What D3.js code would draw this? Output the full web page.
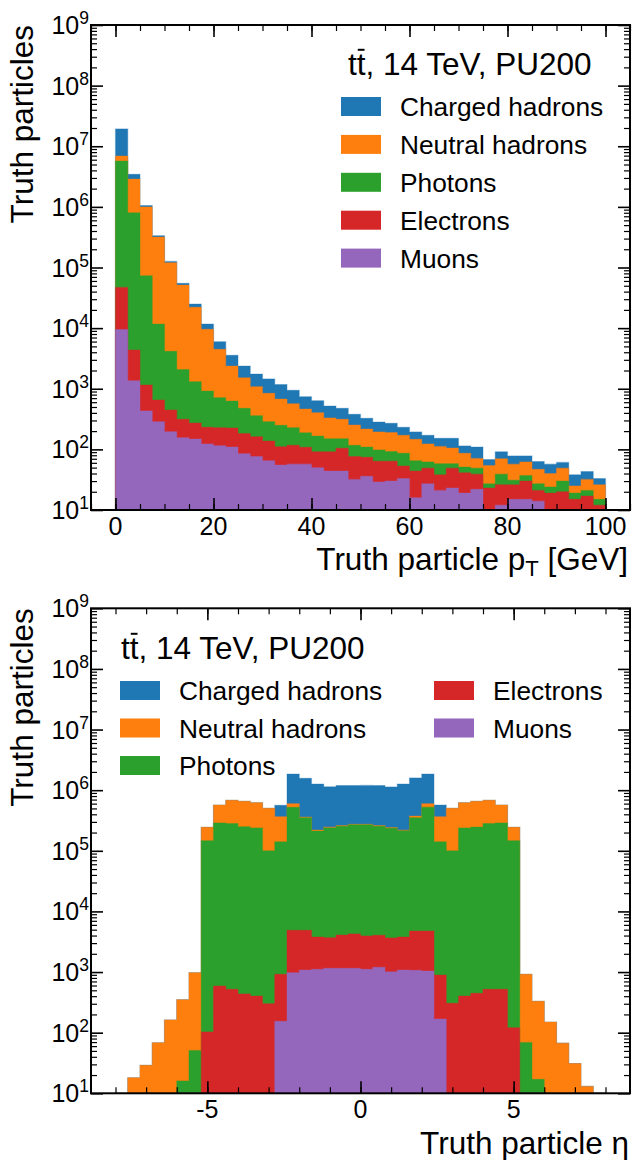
<!DOCTYPE html>
<html><head><meta charset="utf-8">
<script src="https://cdn.jsdelivr.net/npm/d3@7"></script>
<style>
body{margin:0;background:#fff}
text{font-family:"Liberation Sans",Arial,Helvetica,sans-serif;fill:#000}
</style>
</head><body>
<svg id="c" width="633" height="1160"></svg>
<script>
// ---------- DATA ----------
// Series names and colours
const seriesNames = ["Charged hadrons","Neutral hadrons","Photons","Electrons","Muons"];
const seriesColors = ["#1f77b4","#ff7f0e","#2ca02c","#d62728","#9467bd"];

// pT histogram: 40 bins of 2.5 GeV from 0 to 100; stacked levels (top edge of each colour)
const ptBinStart = 0, ptBinWidth = 2.5, ptNBins = 40;
const ptCharged = [1.93e7,3.44e6,1.05e6,3.35e5,1.26e5,5.5e4,2.5e4,1.17e4,5.97e3,3.56e3,2.37e3,1.75e3,1.45e3,1.17e3,942,740,635,519,475,378,325,283,269,231,194,171,152,152,114,109,68,91,78,78,63,57,61,38,43,33];
const ptNeutral = [6.9e6,2.88e6,1.0e6,3.18e5,1.2e5,5.14e4,2.2e4,9.57e3,4.48e3,2.37e3,1.52e3,1.08e3,841,678,566,463,403,330,313,252,217,194,189,171,147,123,112,105,86,71,54,70,57,62,47,40,49,25,32,26];
const ptPhotons = [5.7e6,8.0e5,7.3e4,1.17e4,4.15e3,2.07e3,1.31e3,918,713,628,475,359,286,249,228,188,166,150,150,117,109,98,92,86,65,62,58,58,51,49,27,39,31,37,27,24,30,19,21,15];
const ptElectrons = [4.7e4,4.35e3,1.15e3,652,446,313,272,231,228,225,182,162,137,111,117,108,91,91,104,76,74,64,64,53,44,49,38,49,41,39,23,26,26,30,21,19,20,15,17,12];
const ptMuons = [9.5e3,1.36e3,430,286,196,156,148,123,115,109,85,76,65,55,57,57,50,44,44,32,36,29,30,33,16,27,21,23,19,22,0,12,15,15,14,0,0,0,0,0];

// eta histogram: 40 bins of 0.4 from -8 to 8; stacked levels
const etaBinStart = -8, etaBinWidth = 0.4, etaNBins = 40;
const etaCharged = [0,18,29,68,162,350,975,2.44e5,5.70e5,6.81e5,6.55e5,6.22e5,5.02e5,5.62e5,1.85e6,1.57e6,1.26e6,1.14e6,1.19e6,1.19e6,1.20e6,1.19e6,1.13e6,1.26e6,1.59e6,1.85e6,5.70e5,5.02e5,6.22e5,6.55e5,6.81e5,5.70e5,2.44e5,918,329,150,67,31,13,0];
const etaNeutral = [0,18,29,68,162,350,975,2.44e5,5.70e5,6.81e5,6.55e5,6.22e5,5.02e5,3.66e5,5.98e5,3.61e5,2.20e5,2.45e5,2.61e5,2.74e5,2.74e5,2.61e5,2.42e5,2.19e5,3.75e5,5.98e5,3.66e5,5.02e5,6.22e5,6.55e5,6.81e5,5.70e5,2.44e5,918,329,150,67,31,13,0];
const etaPhotons = [0,0,0,0,0,16,51,1.47e5,2.88e5,2.81e5,2.50e5,2.38e5,1.0e5,1.41e5,5.21e5,3.52e5,2.12e5,2.38e5,2.55e5,2.68e5,2.68e5,2.55e5,2.36e5,2.14e5,3.52e5,5.25e5,1.41e5,1.0e5,2.38e5,2.47e5,2.81e5,2.88e5,1.47e5,69,17,0,0,0,0,0];
const etaElectrons = [0,0,0,0,0,0,0,103,589,519,435,403,301,918,4.89e3,4.89e3,3.78e3,3.69e3,4.08e3,4.25e3,3.94e3,4.04e3,3.65e3,3.78e3,4.75e3,4.75e3,893,305,403,446,519,519,121,0,0,0,0,0,0,0];
const etaMuons = [0,0,0,0,0,0,0,0,0,0,0,0,0,154,975,1.08e3,1.11e3,1.15e3,1.15e3,1.15e3,1.11e3,1.20e3,1.01e3,1.08e3,1.07e3,1.04e3,168,0,0,0,0,0,0,0,0,0,0,0,0,0];

// Axis ticks
const ptMajorTicks = [0,20,40,60,80,100];
const ptMinorTicks = d3.range(-5, 105.01, 5);
const etaMajorTicks = [-5,0,5];
const etaMinorTicks = d3.range(-8, 8.01, 1);
const yDecades = [1,2,3,4,5,6,7,8,9];
const titleText = ", 14 TeV, PU200";
const yLabel = "Truth particles";

// ---------- DRAW ----------
const svg = d3.select("#c");
const FT = 25;    // tick font
const FL = 26.3;  // legend font
const FTi = 31.5; // title
const FA = 31.5;  // axis label

function drawPanel(cfg) {
  const {top, bottom, left, right, xDomain, binStart, binWidth, nBins, series, majors, minors} = cfg;
  const g = svg.append("g");
  const x = d3.scaleLinear().domain(xDomain).range([left, right]);
  const y = d3.scaleLog().domain([1e1, 1e9]).range([bottom, top]).clamp(true);
  const edges = d3.range(nBins + 1).map(i => binStart + i * binWidth);

  const clip = "clip" + Math.round(top);
  svg.append("clipPath").attr("id", clip).append("rect")
     .attr("x", left).attr("y", top).attr("width", right - left).attr("height", bottom - top);

  const area = d3.area()
    .x(d => x(d[0]))
    .y0(bottom)
    .y1(d => d[1] > 0 ? y(d[1]) : bottom)
    .curve(d3.curveStepAfter);

  const hg = g.append("g").attr("clip-path", `url(#${clip})`);
  series.forEach((vals, si) => {
    const pts = vals.map((v, i) => [edges[i], v]);
    pts.push([edges[nBins], vals[nBins - 1]]);
    hg.append("path").datum(pts)
      .attr("d", area)
      .attr("fill", seriesColors[si])
      .attr("stroke", seriesColors[si])
      .attr("stroke-opacity", 0.35)
      .attr("stroke-width", 1.2);
  });

  // ticks (inside)
  const mk = (axis, tx, ty, size, vals, w) => {
    const a = g.append("g").attr("transform", `translate(${tx},${ty})`)
      .call(axis.tickValues(vals).tickSize(size).tickSizeOuter(0).tickFormat(""));
    a.select(".domain").remove();
    a.selectAll("line").attr("stroke", "#000").attr("stroke-width", w);
    return a;
  };
  mk(d3.axisBottom(x), 0, bottom, -12, majors, 1.6);
  mk(d3.axisBottom(x), 0, bottom, -6, minors, 1.2);
  mk(d3.axisTop(x), 0, top, -12, majors, 1.6);
  mk(d3.axisTop(x), 0, top, -6, minors, 1.2);
  const yMajor = yDecades.map(k => Math.pow(10, k));
  const yMinor = [];
  for (let k = 1; k < 9; k++) for (let m = 2; m <= 9; m++) yMinor.push(m * Math.pow(10, k));
  mk(d3.axisLeft(y), left, 0, -12, yMajor, 1.6);
  mk(d3.axisLeft(y), left, 0, -6, yMinor, 1.2);
  mk(d3.axisRight(y), right, 0, -12, yMajor, 1.6);
  mk(d3.axisRight(y), right, 0, -6, yMinor, 1.2);

  // frame
  g.append("rect").attr("x", left).attr("y", top).attr("width", right - left).attr("height", bottom - top)
    .attr("fill", "none").attr("stroke", "#000").attr("stroke-width", 2);

  // x tick labels
  g.selectAll(".xl").data(majors).enter().append("text")
    .attr("x", d => x(d)).attr("y", bottom + 25)
    .attr("text-anchor", "middle").style("font-size", FT + "px")
    .text(d => d < 0 ? "-" + Math.abs(d) : d);

  // y tick labels 10^k
  yDecades.forEach(k => {
    const t = g.append("text").attr("x", left - 2).attr("y", y(Math.pow(10, k)) + 9)
      .attr("text-anchor", "end").style("font-size", FT + "px");
    t.append("tspan").text("10");
    t.append("tspan").attr("dy", -10).style("font-size", (FT * 0.7) + "px").text(k);
  });

  // y label
  g.append("text").attr("transform", `translate(33,${top}) rotate(-90)`)
    .attr("text-anchor", "end").style("font-size", FA + "px").text(yLabel);

  return {x, y, g};
}

function title(g, xx, yy) {
  const t = g.append("text").attr("x", xx).attr("y", yy).style("font-size", FTi + "px");
  t.append("tspan").text("t");
  t.append("tspan").text("t");
  t.append("tspan").text(titleText);
  const node = t.node();
  const ext = node.getExtentOfChar(1);
  g.append("line").attr("x1", ext.x + 1).attr("x2", ext.x + ext.width - 1)
    .attr("y1", yy - FTi * 0.8).attr("y2", yy - FTi * 0.8)
    .attr("stroke", "#000").attr("stroke-width", 2);
}

function legendItem(g, xx, yy, si) {
  g.append("rect").attr("x", xx).attr("y", yy).attr("width", 40).attr("height", 19).attr("fill", seriesColors[si]);
  g.append("text").attr("x", xx + 59).attr("y", yy + 19).style("font-size", FL + "px").text(seriesNames[si]);
}

// top panel
const P1 = drawPanel({top: 25, bottom: 510, left: 91, right: 630, xDomain: [-5, 105],
  binStart: ptBinStart, binWidth: ptBinWidth, nBins: ptNBins,
  series: [ptCharged, ptNeutral, ptPhotons, ptElectrons, ptMuons],
  majors: ptMajorTicks, minors: ptMinorTicks});
title(P1.g, 348, 75);
seriesNames.forEach((n, i) => legendItem(P1.g, 341, 97 + i * 37.9, i));
{
  const t = P1.g.append("text").attr("x", 628).attr("y", 570).attr("text-anchor", "end").style("font-size", FA + "px");
  t.append("tspan").text("Truth particle p");
  t.append("tspan").attr("dy", 6).style("font-size", (FA * 0.7) + "px").text("T");
  t.append("tspan").attr("dy", -6).text(" [GeV]");
}

// bottom panel
const P2 = drawPanel({top: 608.3, bottom: 1093.3, left: 91, right: 630, xDomain: [-8.8, 8.8],
  binStart: etaBinStart, binWidth: etaBinWidth, nBins: etaNBins,
  series: [etaCharged, etaNeutral, etaPhotons, etaElectrons, etaMuons],
  majors: etaMajorTicks, minors: etaMinorTicks});
title(P2.g, 121, 659);
[0,1,2].forEach((si, r) => legendItem(P2.g, 120, 681 + r * 37.5, si));
[3,4].forEach((si, r) => legendItem(P2.g, 434, 681 + r * 37.5, si));
P2.g.append("text").attr("x", 629).attr("y", 1154).attr("text-anchor", "end").style("font-size", FA + "px").text("Truth particle η");
</script>
</body></html>
